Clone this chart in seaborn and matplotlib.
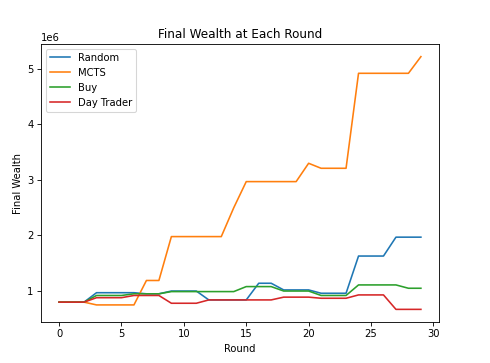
import numpy as np
import pandas as pd
import seaborn as sns
import matplotlib
matplotlib.use("Agg")
import matplotlib.pyplot as plt

rounds = list(range(30))

random_wealth = [0.80, 0.80, 0.80, 0.97, 0.97, 0.97, 0.97, 0.95, 0.95, 1.00,
                 1.00, 1.00, 0.84, 0.84, 0.84, 0.84, 1.14, 1.14, 1.02, 1.02,
                 1.02, 0.96, 0.96, 0.96, 1.63, 1.63, 1.63, 1.97, 1.97, 1.97]
mcts_wealth = [0.80, 0.80, 0.80, 0.75, 0.75, 0.75, 0.75, 1.19, 1.19, 1.98,
               1.98, 1.98, 1.98, 1.98, 2.50, 2.97, 2.97, 2.97, 2.97, 2.97,
               3.30, 3.21, 3.21, 3.21, 4.92, 4.92, 4.92, 4.92, 4.92, 5.22]
buy_wealth = [0.80, 0.80, 0.80, 0.92, 0.92, 0.92, 0.95, 0.95, 0.95, 0.99,
              0.99, 0.99, 0.99, 0.99, 0.99, 1.08, 1.08, 1.08, 1.00, 1.00,
              1.00, 0.92, 0.92, 0.92, 1.11, 1.11, 1.11, 1.11, 1.05, 1.05]
day_trader_wealth = [0.80, 0.80, 0.80, 0.88, 0.88, 0.88, 0.92, 0.92, 0.92, 0.78,
                     0.78, 0.78, 0.84, 0.84, 0.84, 0.84, 0.84, 0.84, 0.89, 0.89,
                     0.89, 0.87, 0.87, 0.87, 0.93, 0.93, 0.93, 0.67, 0.67, 0.67]

series = {
    "Random": random_wealth,
    "MCTS": mcts_wealth,
    "Buy": buy_wealth,
    "Day Trader": day_trader_wealth,
}

# long-form table for seaborn
df = pd.DataFrame([
    {"Round": r, "Final Wealth": v * 1e6, "Agent": name}
    for name, vals in series.items()
    for r, v in zip(rounds, vals)
])

plt.rcParams["font.size"] = 9.3
plt.rcParams["axes.titlesize"] = 11.2

dpi = 77
fig = plt.figure(figsize=(490 / dpi, 363 / dpi), dpi=dpi)
ax = fig.add_axes([41 / 490, 1 - 322 / 363, (439 - 41) / 490, (322 - 44) / 363])

sns.lineplot(data=df, x="Round", y="Final Wealth", hue="Agent",
             palette=["tab:blue", "tab:orange", "tab:green", "tab:red"], ax=ax)

ax.set_title("Final Wealth at Each Round")
ax.set_xlabel("Round")
ax.set_ylabel("Final Wealth")
ax.legend(loc="upper left", title=None)

fig.savefig("out.png", dpi=dpi)
